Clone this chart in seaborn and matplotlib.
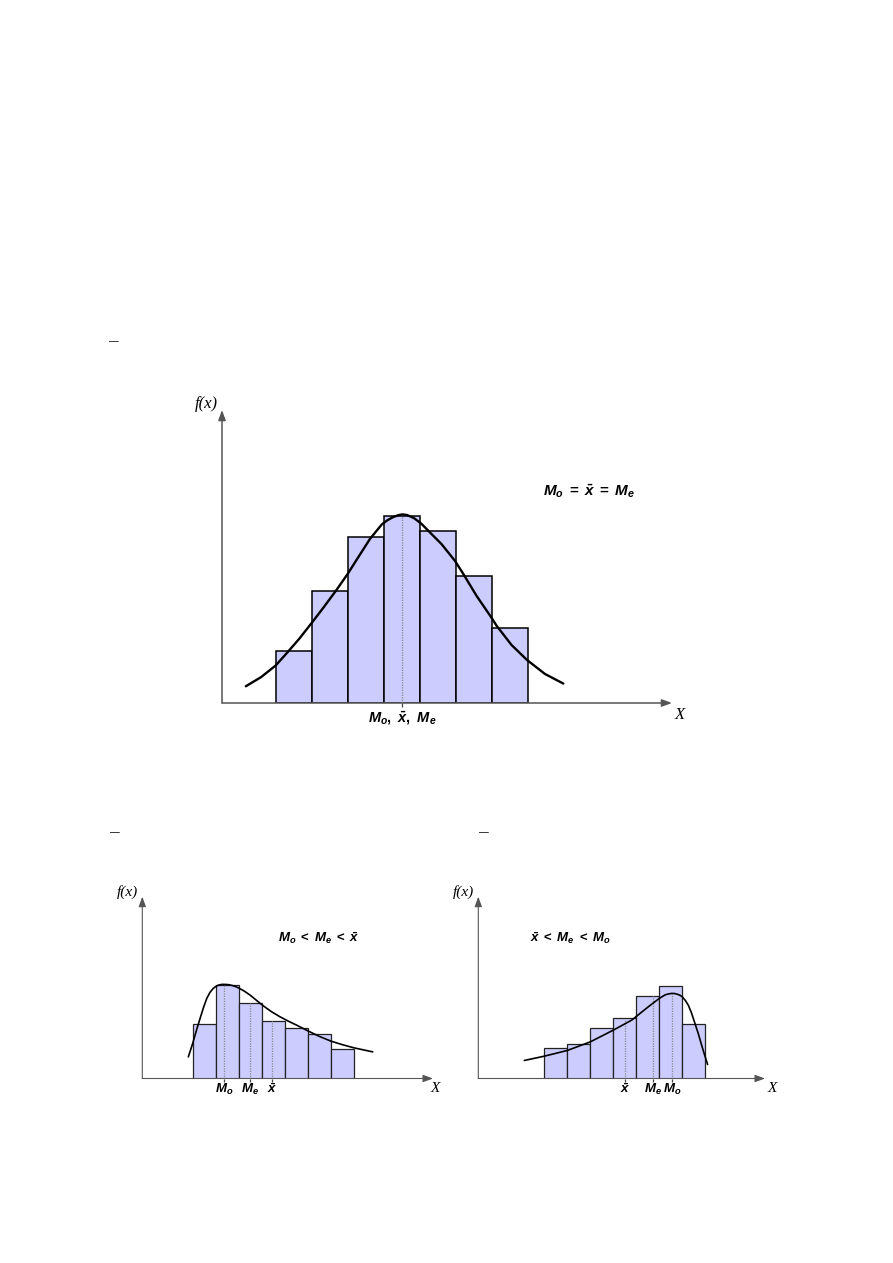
import matplotlib
matplotlib.use("Agg")
import matplotlib.pyplot as plt
import seaborn as sns

# ---------------- data ----------------
# Panel 1: symmetric distribution (Mo = x̄ = Me)
sym_edges = [0, 1, 2, 3, 4, 5, 6, 7]
sym_heights = [5.2, 11.2, 16.6, 18.7, 17.2, 12.7, 7.5]
sym_curve_x = [-0.83, -0.4, 0.0, 0.3, 0.65, 1.0, 1.32, 1.69, 2.0, 2.3, 2.62, 2.95, 3.1, 3.25,
               3.4, 3.52, 3.65, 3.85, 4.05, 4.24, 4.6, 4.98, 5.21, 5.58, 5.98, 6.14, 6.55,
               6.98, 7.48, 7.99]
sym_curve_y = [1.67, 2.6, 3.75, 4.95, 6.4, 8.0, 9.5, 11.3, 12.9, 14.6, 16.4, 17.85, 18.25, 18.55,
               18.76, 18.84, 18.78, 18.45, 17.9, 17.2, 15.9, 14.2, 12.9, 10.7, 8.6, 7.7, 5.8,
               4.3, 2.9, 1.94]
sym_marks_x = [3.52]
sym_marks_top = [18.84]
sym_mark_labels = [r"$M_o,\ \bar{x},\ M_e$"]
sym_relation = r"$M_o\;=\;\bar{x}\;=\;M_e$"

# Panel 2: positively skewed (Mo < Me < x̄)
pos_edges = [0, 1, 2, 3, 4, 5, 6, 7]
pos_heights = [10.8, 18.66, 15.06, 11.52, 10.0, 8.86, 5.86]
pos_curve_x = [-0.19, 0.0, 0.16, 0.32, 0.47, 0.61, 0.75, 0.89, 1.02, 1.15, 1.27, 1.40,
               1.55, 1.7, 1.84, 1.98, 2.24, 2.49, 3.02, 3.4, 3.79, 4.15, 4.51, 5.02, 5.5,
               6.0, 6.5, 7.0, 7.81]
pos_curve_y = [4.32, 7.0, 9.6, 12.0, 14.2, 16.0, 17.2, 18.0, 18.45, 18.7, 18.8, 18.8,
               18.75, 18.6, 18.4, 18.12, 17.45, 16.66, 14.66, 13.4, 12.32, 11.45, 10.66,
               9.46, 8.4, 7.46, 6.75, 6.12, 5.32]
pos_marks_x = [1.37, 2.47, 3.44]
pos_marks_top = [18.8, 15.06, 11.52]
pos_mark_labels = [r"$M_o$", r"$M_e$", r"$\bar{x}$"]
pos_relation = r"$M_o\;<\;M_e\;<\;\bar{x}$"

# Panel 3: negatively skewed (x̄ < Me < Mo)
neg_edges = [0, 1, 2, 3, 4, 5, 6, 7]
neg_heights = [6.0, 6.8, 10.0, 12.0, 16.4, 18.46, 10.8]
neg_curve_x = [-0.87, 0.0, 1.0, 2.0, 3.0, 3.8, 4.0, 4.52, 5.0, 5.25, 5.4, 5.54, 5.66, 5.77,
               5.89, 6.0, 6.13, 6.26, 6.4, 6.55, 6.7, 6.84, 6.97, 7.1]
neg_curve_y = [3.6, 4.46, 5.6, 7.32, 9.66, 11.66, 12.4, 14.32, 16.0, 16.7, 16.9, 17.0, 16.98,
               16.85, 16.65, 16.32, 15.6, 14.66, 13.1, 11.0, 8.9, 6.66, 4.7, 2.8]
neg_marks_x = [3.51, 4.74, 5.55]
neg_marks_top = [11.8, 16.4, 17.0]
neg_mark_labels = [r"$\bar{x}$", r"$M_e$", r"$M_o$"]
neg_relation = r"$\bar{x}\;<\;M_e\;<\;M_o$"

# ---------------- style ----------------
sns.set_style("white")
plt.rcParams["font.family"] = ["Liberation Sans", "DejaVu Sans"]
plt.rcParams["text.color"] = "black"
plt.rcParams["mathtext.fontset"] = "custom"
plt.rcParams["mathtext.it"] = "Liberation Sans:italic:bold"
plt.rcParams["mathtext.rm"] = "Liberation Sans:bold"
plt.rcParams["mathtext.bf"] = "Liberation Sans:bold"

W, H = 893, 1263
fig = plt.figure(figsize=(W / 100, H / 100), dpi=100)
fig.patch.set_facecolor("white")

BAR_FILL = "#CCCCFF"


def fx(px):
    return px / W


def fy(py):
    return 1 - py / H


def panel(box, xlim, ylim, edges, heights, cx, cy, mx, mtop, mlabels,
          bar_lw, edge_col, curve_lw, axis_lw, label_off, label_fs, tick_len):
    left, top, right, bottom = box
    ax = fig.add_axes([fx(left), fy(bottom), (right - left) / W, (bottom - top) / H])
    centers = [(a + b) / 2 for a, b in zip(edges[:-1], edges[1:])]
    sns.histplot(x=centers, weights=heights, bins=edges, ax=ax, color=BAR_FILL,
                 edgecolor=edge_col, linewidth=bar_lw, alpha=1)
    ax.vlines(mx, 0, mtop, colors="#8a8a8a", linestyles=(0, (1, 1)), lw=0.9, zorder=3)
    sns.lineplot(x=cx, y=cy, ax=ax, color="black", linewidth=curve_lw,
                 estimator=None, sort=False, zorder=4,
                 solid_joinstyle="round", solid_capstyle="round")
    ax.set_xlim(*xlim)
    ax.set_ylim(*ylim)
    for s in ax.spines.values():
        s.set_visible(False)
    ax.set_xlabel("")
    ax.set_ylabel("")
    ax.set_yticks([])
    ax.set_xticks(mx)
    ax.tick_params(axis="x", bottom=True, length=tick_len, width=0.9, color="#444444",
                   direction="out", labelbottom=False)
    ax.patch.set_alpha(0)
    # axes with arrow heads
    ap = dict(arrowstyle="-|>,head_length=0.6,head_width=0.22", color="#555555",
              lw=axis_lw, shrinkA=0, shrinkB=0)
    ax.annotate("", xy=(1, 0), xytext=(0, 0), xycoords="axes fraction",
                textcoords="axes fraction", arrowprops=ap, annotation_clip=False)
    ax.annotate("", xy=(0, 1), xytext=(0, 0), xycoords="axes fraction",
                textcoords="axes fraction", arrowprops=ap, annotation_clip=False)
    for x, lab in zip(mx, mlabels):
        ax.text(x, -label_off, lab, ha="center", va="center", fontsize=label_fs,
                clip_on=False, color="black")
    return ax


# Panel 1 (top)
panel((222, 410, 672, 703), ((222 - 275.7) / 36, (672 - 275.7) / 36), (0, (702.7 - 410) / 10),
      sym_edges, sym_heights, sym_curve_x, sym_curve_y, sym_marks_x, sym_marks_top,
      sym_mark_labels, bar_lw=1.1, edge_col="black", curve_lw=1.7, axis_lw=1.1,
      label_off=1.5, label_fs=10.5, tick_len=3)
fig.text(fx(589), fy(491), sym_relation, ha="center", va="center", fontsize=11)
fig.text(fx(206), fy(404), "f(x)", ha="center", va="center", fontsize=12,
         family="Liberation Serif", style="italic")
fig.text(fx(680), fy(715), "X", ha="center", va="center", fontsize=12,
         family="Liberation Serif", style="italic")

# Panel 2 (bottom left)
panel((142.3, 896.7, 433, 1078.5), ((142.3 - 192.7) / 23.05, (433 - 192.7) / 23.05),
      (0, (1078.3 - 896.7) / 5),
      pos_edges, pos_heights, pos_curve_x, pos_curve_y, pos_marks_x, pos_marks_top,
      pos_mark_labels, bar_lw=0.9, edge_col="#222222", curve_lw=1.2, axis_lw=0.8,
      label_off=2.1, label_fs=9.5, tick_len=2)
fig.text(fx(319), fy(938), pos_relation, ha="center", va="center", fontsize=9.5)
fig.text(fx(127), fy(892), "f(x)", ha="center", va="center", fontsize=11,
         family="Liberation Serif", style="italic")
fig.text(fx(435), fy(1089), "X", ha="center", va="center", fontsize=11,
         family="Liberation Serif", style="italic")

# Panel 3 (bottom right)
panel((478.3, 896.7, 765, 1078.5), ((478.3 - 544.3) / 23, (765 - 544.3) / 23),
      (0, (1078.3 - 896.7) / 5),
      neg_edges, neg_heights, neg_curve_x, neg_curve_y, neg_marks_x, neg_marks_top,
      neg_mark_labels, bar_lw=0.9, edge_col="#222222", curve_lw=1.2, axis_lw=0.8,
      label_off=2.1, label_fs=9.5, tick_len=2)
fig.text(fx(570), fy(938), neg_relation, ha="center", va="center", fontsize=9.5)
fig.text(fx(463), fy(892), "f(x)", ha="center", va="center", fontsize=11,
         family="Liberation Serif", style="italic")
fig.text(fx(772), fy(1089), "X", ha="center", va="center", fontsize=11,
         family="Liberation Serif", style="italic")

# small stray dashes from the original page
for px, py in [(114, 341), (115, 832), (484, 832)]:
    fig.text(fx(px), fy(py), "\u2014", ha="center", va="center", fontsize=7,
             color="black")

fig.savefig("out.png", dpi=100, facecolor="white")
